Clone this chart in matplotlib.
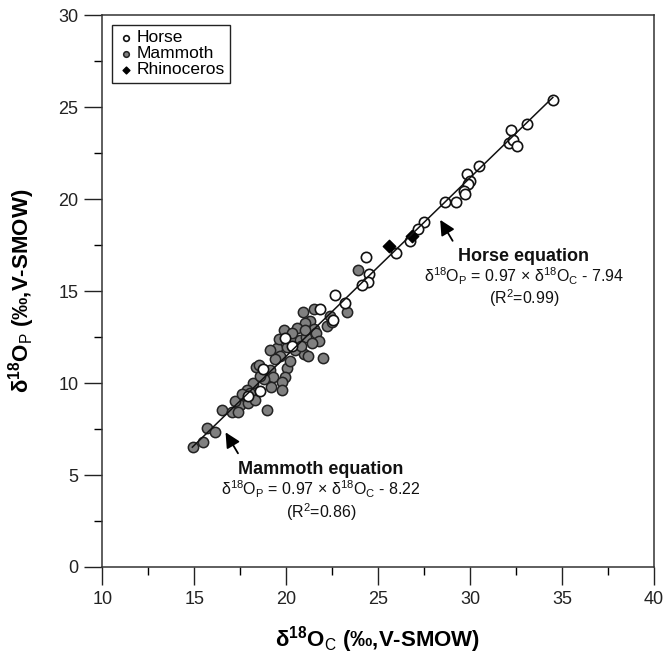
import matplotlib
matplotlib.use("Agg")
import matplotlib.pyplot as plt
import numpy as np

plt.rcParams['font.family'] = ['Liberation Sans', 'DejaVu Sans']
plt.rcParams['mathtext.fontset'] = 'custom'
plt.rcParams['mathtext.rm'] = 'Liberation Sans'
plt.rcParams['mathtext.it'] = 'Liberation Sans:italic'
plt.rcParams['mathtext.bf'] = 'Liberation Sans:bold'

# horse (open circles)
horse_x = [34.5, 33.1, 32.2, 32.1, 32.35, 32.55, 30.5, 29.85, 30.0, 29.9, 29.65, 29.75,
           28.65, 29.25, 27.5, 27.15, 26.75, 26.0, 24.35, 24.5, 24.45, 24.15, 22.65, 23.2,
           22.55, 21.85, 19.95, 18.75, 18.6, 20.3, 17.9]
horse_y = [25.4, 24.1, 23.75, 23.05, 23.2, 22.9, 21.8, 21.35, 21.0, 20.8, 20.45, 20.3,
           19.85, 19.85, 18.75, 18.4, 17.7, 17.05, 16.85, 15.9, 15.5, 15.35, 14.8, 14.35,
           13.4, 14.05, 12.45, 10.75, 9.55, 12.0, 9.3]

# mammoth (grey circles)
mammoth_x = [23.9, 23.3, 22.4, 20.9, 21.5, 21.3, 21.05, 21.5, 19.9, 20.4, 20.75, 21.1,
             21.65, 19.5, 20.05, 20.95, 21.2, 22.0, 19.65, 18.35, 19.15, 20.05, 19.3, 19.95,
             19.75, 19.2, 19.75, 18.2, 17.85, 18.05, 17.75, 17.5, 18.95, 16.5, 17.05, 17.4,
             15.7, 16.15, 14.95, 15.5, 20.5, 20.2, 19.4, 21.8, 22.2, 20.6, 21.0, 18.8,
             18.6, 17.2, 17.9, 22.5, 18.5, 19.1, 20.8, 21.4, 19.6, 20.3, 17.6, 18.3]
mammoth_y = [16.15, 13.85, 13.65, 13.85, 14.05, 13.35, 13.25, 12.95, 12.9, 12.25, 12.35, 12.5,
             12.7, 11.9, 11.95, 11.6, 11.45, 11.35, 11.45, 10.85, 10.7, 10.8, 10.35, 10.35,
             10.05, 9.8, 9.6, 10.0, 9.6, 9.45, 9.25, 8.8, 8.55, 8.55, 8.45, 8.45,
             7.55, 7.35, 6.5, 6.8, 11.8, 11.2, 11.3, 12.3, 13.1, 13.0, 12.9, 10.2,
             10.4, 9.0, 8.9, 13.3, 11.0, 11.8, 12.0, 12.2, 12.4, 12.7, 9.4, 9.1]

# rhinoceros (black diamonds)
rhino_x = [25.6, 26.85]
rhino_y = [17.45, 18.0]

# regression line (horse equation)
slope, intercept = 0.97, -7.94
line_x = [14.9, 34.5]

fig = plt.figure(figsize=(6.68, 6.57), dpi=100)
ax = fig.add_axes([0.153, 0.137, 0.826, 0.840])

ax.scatter(mammoth_x, mammoth_y, s=55, facecolor='#808080', edgecolor='#222222',
           linewidth=1.1, zorder=2, label='Mammoth')
ax.scatter(horse_x, horse_y, s=55, facecolor='white', edgecolor='#111111',
           linewidth=1.2, zorder=3, label='Horse')
ax.scatter(rhino_x, rhino_y, s=40, marker='D', facecolor='black', edgecolor='black',
           zorder=4, label='Rhinoceros')
lx = np.array(line_x)
ax.plot(lx, slope * lx + intercept, color='#111111', lw=1.1, zorder=5)

ax.set_xlim(10, 40)
ax.set_ylim(0, 30)
ax.set_xticks([10, 15, 20, 25, 30, 35, 40])
ax.set_xticks([12.5, 17.5, 22.5, 27.5, 32.5, 37.5], minor=True)
ax.set_yticks([0, 5, 10, 15, 20, 25, 30])
ax.set_yticks([2.5, 7.5, 12.5, 17.5, 22.5, 27.5], minor=True)
ax.tick_params(which='major', direction='out', length=13, width=1.0, labelsize=13,
               pad=4, colors='#222222')
ax.tick_params(which='minor', direction='out', length=6, width=1.0)
for s in ax.spines.values():
    s.set_linewidth(1.1)
    s.set_color('#333333')

ax.set_xlabel('δ$^{\\mathbf{18}}$O$_{\\mathrm{C}}$ (‰,V-SMOW)', fontsize=16,
              fontweight='bold')
ax.set_ylabel('δ$^{\\mathbf{18}}$O$_{\\mathrm{P}}$ (‰,V-SMOW)', fontsize=16,
              fontweight='bold')
ax.xaxis.set_label_coords(0.5, -0.103)
ax.yaxis.set_label_coords(-0.118, 0.5)

handles, labels = ax.get_legend_handles_labels()
order = [1, 0, 2]
leg = ax.legend([handles[i] for i in order], [labels[i] for i in order],
                loc='upper left', bbox_to_anchor=(0.018, 0.982), borderaxespad=0,
                fontsize=12.5, markerscale=0.55, handletextpad=0.1, handlelength=1.0,
                labelspacing=0.05, borderpad=0.3, fancybox=False, framealpha=1,
                edgecolor='#222222')
leg.get_frame().set_linewidth(1.0)

arrow = dict(arrowstyle='-|>,head_length=0.9,head_width=0.45', color='black', lw=1.3)

# horse annotation
ax.annotate('', xy=(28.3, 19.0), xytext=(29.13, 17.6), arrowprops=arrow)
ax.text(32.93, 16.9, 'Horse equation', ha='center', va='center', fontsize=13,
        fontweight='bold', color='#111111')
ax.text(32.93, 15.8, 'δ$^{18}$O$_\\mathrm{P}$ = 0.97 × δ$^{18}$O$_\\mathrm{C}$ - 7.94',
        ha='center', va='center', fontsize=11.5, color='#111111')
ax.text(32.93, 14.6, '(R$^2$=0.99)', ha='center', va='center', fontsize=11.5,
        color='#111111')

# mammoth annotation
ax.annotate('', xy=(16.63, 7.45), xytext=(17.46, 6.05), arrowprops=arrow)
ax.text(21.9, 5.3, 'Mammoth equation', ha='center', va='center', fontsize=13,
        fontweight='bold', color='#111111')
ax.text(21.9, 4.2, 'δ$^{18}$O$_\\mathrm{P}$ = 0.97 × δ$^{18}$O$_\\mathrm{C}$ - 8.22',
        ha='center', va='center', fontsize=11.5, color='#111111')
ax.text(21.9, 3.0, '(R$^2$=0.86)', ha='center', va='center', fontsize=11.5,
        color='#111111')

fig.savefig('out.png', dpi=100)
